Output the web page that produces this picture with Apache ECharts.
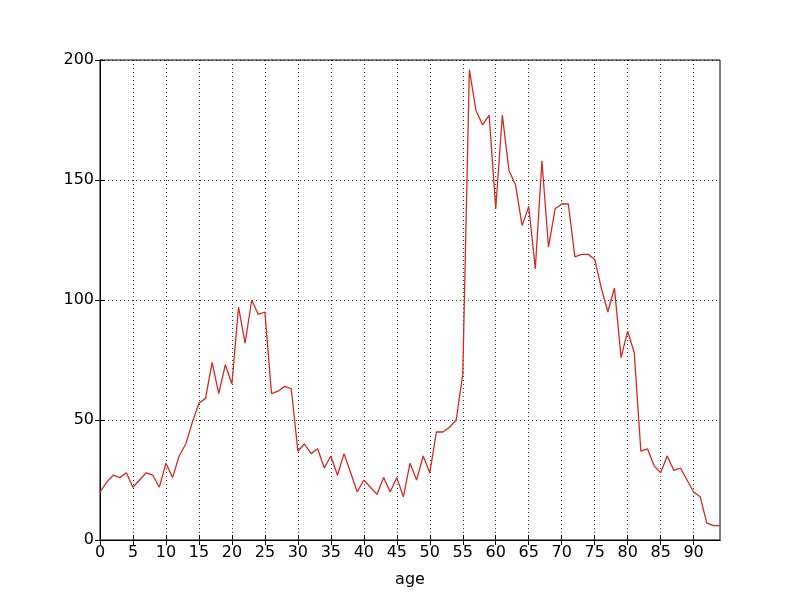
<!DOCTYPE html>
<html>
<head>
<meta charset="utf-8">
<script src="https://cdn.jsdelivr.net/npm/echarts@6/dist/echarts.min.js"></script>
<style>html,body{margin:0;padding:0;background:#fff}#c{width:800px;height:600px}</style>
</head>
<body>
<div id="c"></div>
<script>
const ages = [];
for (let i = 0; i <= 94; i++) ages.push(i);
const counts = [20,24,27,26,28,22,25,28,27,22,
32,26,35,40,49,57,59,74,61,73,
65,97,82,100,94,95,61,62,64,63,
37,40,36,38,30,35,27,36,28,20,
25,22,19,26,20,26,18,32,25,35,
28,45,45,47,50,69,196,179,173,177,
138,177,154,148,131,139,113,158,122,138,
140,140,118,119,119,117,105,95,105,76,
87,78,37,38,31,28,35,29,30,25,
20,18,7,6,6];
const xTicks = [0,5,10,15,20,25,30,35,40,45,50,55,60,65,70,75,80,85,90];
const yTicks = [0,50,100,150,200];
const xLabel = 'age';

const font = 'DejaVu Sans';
const chart = echarts.init(document.getElementById('c'));
const data = ages.map((a, i) => [a, counts[i]]);
const gridStyle = {show: true, lineStyle: {color: '#000', type: [1, 3], width: 1, opacity: 0.8}};
const tick = {show: true, inside: true, length: 5, lineStyle: {color: '#000'}};
chart.setOption({
  animation: false,
  grid: {left: 100, right: 80, top: 60, bottom: 60, show: true, borderColor: '#000', borderWidth: 1},
  xAxis: [{
    type: 'value', min: 0, max: 94, interval: 5,
    name: xLabel, nameLocation: 'middle', nameGap: 32,
    nameTextStyle: {color: '#000', fontSize: 16, fontFamily: font},
    axisLine: {show: true, lineStyle: {color: '#000'}},
    axisTick: Object.assign({customValues: xTicks}, tick),
    axisLabel: {color: '#000', fontSize: 16, fontFamily: font, margin: 5, customValues: xTicks},
    splitLine: gridStyle
  }, {
    type: 'value', position: 'top', min: 0, max: 94, interval: 5,
    axisLine: {show: true, lineStyle: {color: '#000'}},
    axisTick: Object.assign({customValues: xTicks}, tick),
    axisLabel: {show: false}, splitLine: {show: false}
  }],
  yAxis: [{
    type: 'value', min: 0, max: 200, interval: 50,
    axisLine: {show: true, lineStyle: {color: '#000'}},
    axisTick: tick,
    axisLabel: {color: '#000', fontSize: 16, fontFamily: font, margin: 6,
      formatter: v => yTicks.indexOf(v) >= 0 ? String(v) : ''},
    splitLine: gridStyle
  }, {
    type: 'value', position: 'right', min: 0, max: 200, interval: 50,
    axisLine: {show: true, lineStyle: {color: '#000'}},
    axisTick: tick,
    axisLabel: {show: false}, splitLine: {show: false}
  }],
  series: [{
    type: 'line', data: data, showSymbol: false, symbol: 'none',
    lineStyle: {color: '#d42a22', width: 1.3}, itemStyle: {color: '#d42a22'}
  }]
});
</script>
</body>
</html>
